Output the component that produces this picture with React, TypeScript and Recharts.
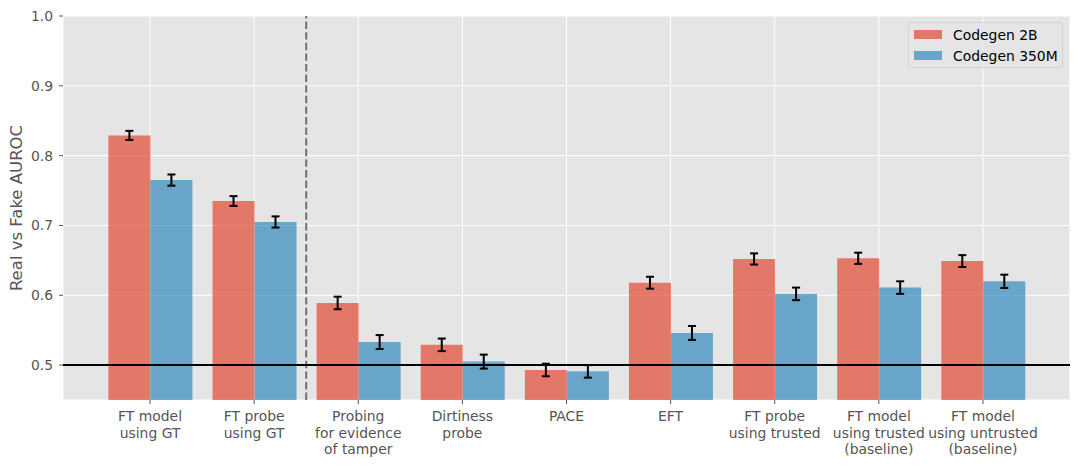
import { BarChart, Bar, XAxis, YAxis, CartesianGrid, ReferenceLine, ErrorBar } from 'recharts';

const categories = [
  'FT model\nusing GT',
  'FT probe\nusing GT',
  'Probing\nfor evidence\nof tamper',
  'Dirtiness\nprobe',
  'PACE',
  'EFT',
  'FT probe\nusing trusted',
  'FT model\nusing trusted\n(baseline)',
  'FT model\nusing untrusted\n(baseline)',
];
const codegen2b = [0.829, 0.735, 0.589, 0.529, 0.493, 0.618, 0.652, 0.653, 0.649];
const codegen2bErr = [0.0065, 0.007, 0.009, 0.009, 0.009, 0.0085, 0.008, 0.008, 0.0085];
const codegen350m = [0.765, 0.705, 0.533, 0.505, 0.491, 0.546, 0.602, 0.611, 0.62];
const codegen350mErr = [0.008, 0.008, 0.01, 0.01, 0.009, 0.01, 0.009, 0.009, 0.0095];
const yTicks = [0.5, 0.6, 0.7, 0.8, 0.9, 1.0];

const SERIES = [
  { key: 'b2', err: 'b2Err', name: 'Codegen 2B', color: '#E24A33' },
  { key: 'm350', err: 'm350Err', name: 'Codegen 350M', color: '#348ABD' },
];

const data = categories.map((c, i) => ({
  name: c,
  b2: codegen2b[i],
  b2Err: codegen2bErr[i],
  m350: codegen350m[i],
  m350Err: codegen350mErr[i],
}));

const FONT = 'DejaVu Sans';

function CategoryTick(props: any) {
  const { x, y, payload } = props;
  const lines = String(payload.value).split('\n');
  return (
    <text x={x} y={y} textAnchor="middle" fill="#555" fontSize={13.9} fontFamily={FONT}>
      {lines.map((l, i) => (
        <tspan key={i} x={x} y={y + 15 + i * 16.5}>{l}</tspan>
      ))}
    </text>
  );
}

function YLabel() {
  return (
    <text x={16} y={208} transform="rotate(-90 16 208)" textAnchor="middle" dominantBaseline="central" fill="#555" fontSize={16.5} fontFamily={FONT}>
      Real vs Fake AUROC
    </text>
  );
}

function LegendBox() {
  return (
    <div style={{ position: 'absolute', left: 908, top: 22, width: 155, boxSizing: 'border-box', background: 'rgba(229,229,229,0.8)', border: '1px solid #d4d4d4', borderRadius: 3, padding: '1px 4px 1px 5px', fontFamily: FONT, fontSize: 13.9, color: '#000' }}>
      {SERIES.map((s) => (
        <div key={s.key} style={{ display: 'flex', alignItems: 'center', height: 21, whiteSpace: 'nowrap' }}>
          <span style={{ display: 'inline-block', width: 28, height: 9, background: s.color, opacity: 0.7, marginRight: 11 }} />
          {s.name}
        </div>
      ))}
    </div>
  );
}

export default function App() {
  return (
    <div style={{ position: 'absolute', left: 0, top: 0, width: 1079, height: 466 }}>
      <BarChart width={1079} height={466} data={data} margin={{ top: 16, right: 9, bottom: 0, left: 0 }} barCategoryGap="10%" barGap={0}>
        <CartesianGrid stroke="#ffffff" fill="#E5E5E5" strokeWidth={1} />
        <XAxis
          dataKey="name"
          height={66}
          padding={{ left: 35, right: 35 }}
          axisLine={false}
          tickLine={{ stroke: '#555' }}
          tickSize={4}
          tickMargin={2}
          interval={0}
          tick={<CategoryTick />}
        />
        <YAxis
          width={63}
          domain={[0.45, 1.0]}
          allowDataOverflow
          ticks={yTicks}
          tickFormatter={(v: number) => v.toFixed(1)}
          axisLine={false}
          tickLine={{ stroke: '#555' }}
          tickSize={4}
          tickMargin={6}
          tick={{ fill: '#555', fontSize: 13.9, fontFamily: FONT }}
          label={<YLabel />}
        />
        {SERIES.map((s) => (
          <Bar key={s.key} dataKey={s.key} name={s.name} fill={s.color} fillOpacity={0.7} isAnimationActive={false}>
            <ErrorBar dataKey={s.err} stroke="#000" strokeWidth={2} width={4} />
          </Bar>
        ))}
        <ReferenceLine x={categories[1]} position="end" stroke="#707070" strokeWidth={2} strokeDasharray="7.4 3.2" />
        <ReferenceLine y={0.5} stroke="#000" strokeWidth={2} />
      </BarChart>
      <LegendBox />
    </div>
  );
}
